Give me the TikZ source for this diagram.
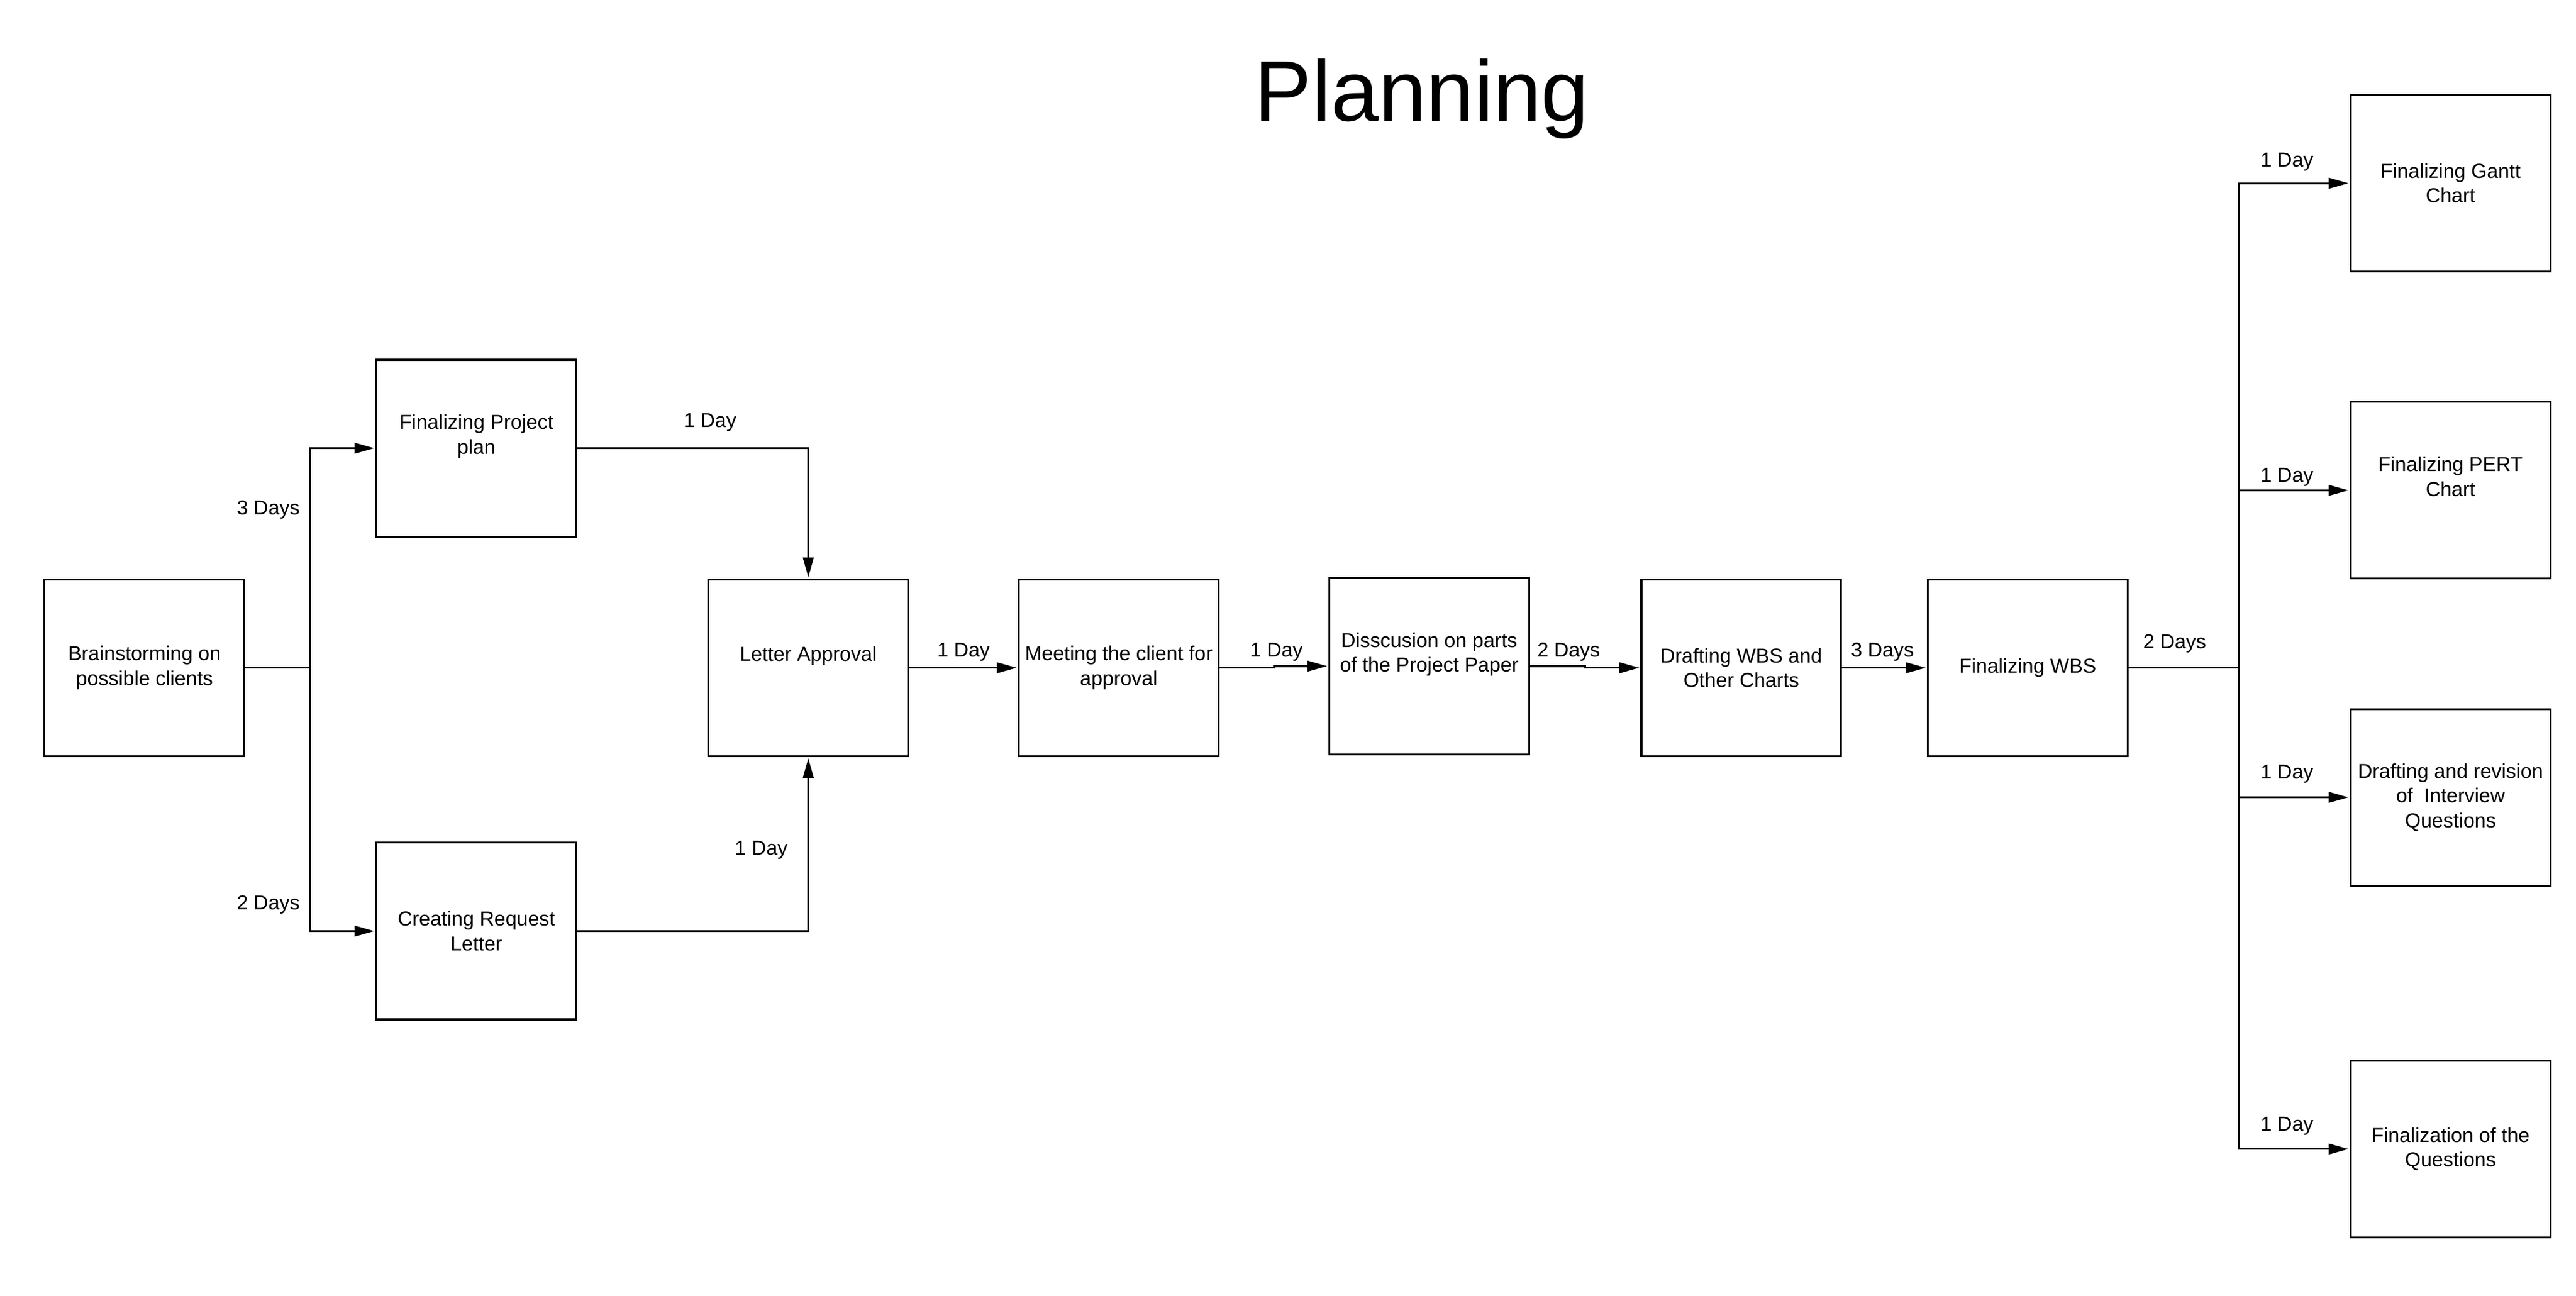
\documentclass[tikz,border=0pt]{standalone}
\usepackage{fontspec}
\setmainfont{Liberation Sans}
\usetikzlibrary{arrows.meta}

\tikzset{
	task/.style={rectangle, draw=black, line width=0.8pt, minimum width=3.025cm, minimum height=2.675cm, align=center, inner sep=0.5mm, font=\fontsize{8.7}{10.6}\selectfont},
	high/.style={text depth=0.42cm},
	days/.style={font=\fontsize{8.7}{10.6}\selectfont, inner sep=0mm},
	flow/.style={-{Triangle[length=0.3cm, width=0.16cm]}, line width=0.8pt, shorten >=0.5pt},
}

\begin{document}
\begin{tikzpicture}[x=0.025cm, y=-0.025cm]
		\useasboundingbox[fill=white] (0, 0) rectangle (1560, 784.7);
		\node[anchor=base, font=\fontsize{37}{44}\selectfont] (title) at (861, 73.5) {Planning};
		% first part
		\node[task] (brain) at (87.5, 404.5) {Brainstorming on \\ possible clients};
		\node[task, high] (plan) at (288.5, 271.5) {Finalizing Project \\ plan};
		\node[task] (request) at (288.5, 564) {Creating Request \\ Letter};
		\node[task, high] (letter) at (489.5, 404.5) {Letter Approval};
		\node[task] (meeting) at (677.5, 404.5) {Meeting the client for \\ approval};
		\node[task, high] (disc) at (865.5, 403.5) {Disscusion on parts \\ of the Project Paper};
		\node[task] (draftwbs) at (1054.5, 404.5) {Drafting WBS and \\ Other Charts};
		\node[task] (finalwbs) at (1228, 404.5) {Finalizing WBS};
		% last column
		\node[task] (gantt) at (1484, 111) {Finalizing Gantt \\ Chart};
		\node[task, high] (pert) at (1484, 297) {Finalizing PERT \\ Chart};
		\node[task] (revision) at (1484, 483) {Drafting and revision \\ of \ Interview \\ Questions};
		\node[task] (questions) at (1484, 696) {Finalization of the \\ Questions};
		% durations
		\node[days] (d3a) at (162.5, 309) {3 Days};
		\node[days] (d2a) at (162.5, 548) {2 Days};
		\node[days] (d1a) at (430, 256) {1 Day};
		\node[days] (d1b) at (461, 515) {1 Day};
		\node[days] (d1c) at (583.5, 395) {1 Day};
		\node[days] (d1d) at (773, 395) {1 Day};
		\node[days] (d2b) at (950, 395) {2 Days};
		\node[days] (d3b) at (1140, 395) {3 Days};
		\node[days] (d2c) at (1317, 390) {2 Days};
		\node[days] (d1e) at (1385, 98) {1 Day};
		\node[days] (d1f) at (1385, 289) {1 Day};
		\node[days] (d1g) at (1385, 469) {1 Day};
		\node[days] (d1h) at (1385, 682) {1 Day};
		% branch points
		\coordinate (split1) at (188, 404.5);
		\coordinate (jog1) at (771.5, 404.5);
		\coordinate (jog2) at (960, 403.5);
		\coordinate (split2) at (1356, 404.5);
		% connectors
		\draw[line width=0.8pt] (brain) -- (split1);
		\draw[flow] (split1) |- (plan);
		\draw[flow] (split1) |- (request);
		\draw[flow] (plan) -| (letter);
		\draw[flow] (request) -| (letter);
		\draw[flow] (letter) -- (meeting);
		\draw[flow] (meeting) -- (jog1) |- (disc);
		\draw[flow] (disc) -- (jog2) |- (draftwbs);
		\draw[flow] (draftwbs) -- (finalwbs);
		\draw[line width=0.8pt] (finalwbs) -- (split2);
		\draw[flow] (split2) |- (gantt);
		\draw[flow] (split2) |- (pert);
		\draw[flow] (split2) |- (revision);
		\draw[flow] (split2) |- (questions);
	\end{tikzpicture}
\end{document}
